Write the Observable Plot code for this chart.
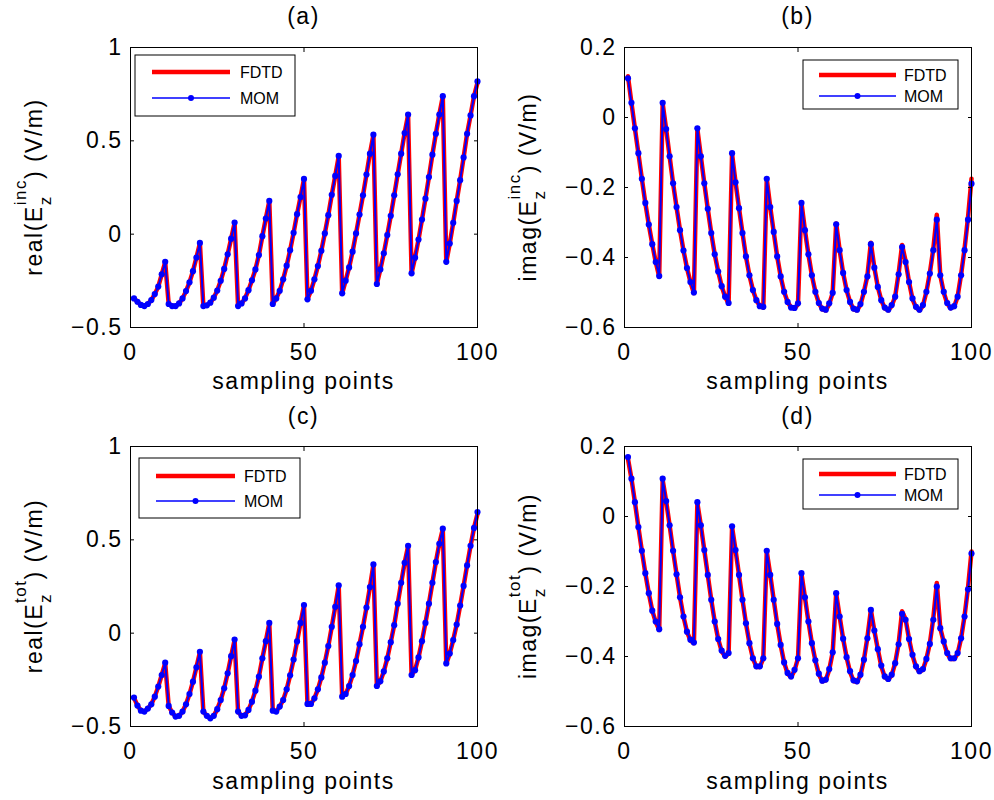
<!DOCTYPE html>
<html><head><meta charset="utf-8">
<script src="https://cdn.jsdelivr.net/npm/d3@7"></script>
<script src="https://cdn.jsdelivr.net/npm/@observablehq/plot@0.6"></script>
<style>
body{margin:0;background:#fff;}
#fig{position:relative;width:994px;height:800px;overflow:hidden;background:#fff;}
#fig svg{position:absolute;overflow:visible;background:transparent;}
#fig svg text{letter-spacing:1.5px;}
#fig svg text.leg{letter-spacing:0;}
</style></head><body><div id="fig"></div>
<script>
// sampling point indices
const samplingPoints = d3.range(1, 101);
const xTicks = [0, 50, 100];
const yTicksReal = [-0.5, 0, 0.5, 1];
const yTicksImag = [-0.6, -0.4, -0.2, 0, 0.2];
const seriesNames = ["FDTD", "MOM"];

// (a) real(Ez inc)
const realIncMOM = [
 -0.344,-0.362,-0.379,-0.385,-0.374,-0.353,-0.321,-0.281,-0.215,-0.148,
 -0.374,-0.385,-0.385,-0.371,-0.344,-0.305,-0.258,-0.198,-0.125,-0.047,
 -0.385,-0.381,-0.367,-0.340,-0.302,-0.250,-0.186,-0.108,-0.024,0.062,
 -0.385,-0.371,-0.344,-0.300,-0.247,-0.189,-0.112,-0.011,0.084,0.178,
 -0.374,-0.344,-0.303,-0.242,-0.169,-0.086,0.007,0.107,0.199,0.296,
 -0.349,-0.303,-0.242,-0.171,-0.089,0.004,0.102,0.211,0.312,0.419,
 -0.317,-0.249,-0.178,-0.094,0.004,0.105,0.208,0.319,0.431,0.533,
 -0.267,-0.189,-0.103,-0.005,0.098,0.208,0.321,0.431,0.542,0.641,
 -0.210,-0.126,-0.029,0.078,0.190,0.306,0.426,0.538,0.641,0.739,
 -0.148,-0.050,0.061,0.178,0.289,0.411,0.538,0.636,0.739,0.818];
const realIncFDTD = [
 -0.344,-0.362,-0.379,-0.385,-0.374,-0.353,-0.321,-0.281,-0.215,-0.150,
 -0.374,-0.385,-0.385,-0.371,-0.344,-0.305,-0.258,-0.198,-0.125,-0.049,
 -0.385,-0.381,-0.367,-0.340,-0.302,-0.250,-0.186,-0.108,-0.024,0.060,
 -0.385,-0.371,-0.344,-0.300,-0.247,-0.189,-0.112,-0.011,0.084,0.176,
 -0.374,-0.344,-0.303,-0.242,-0.169,-0.086,0.007,0.107,0.199,0.294,
 -0.349,-0.303,-0.242,-0.171,-0.089,0.004,0.102,0.211,0.312,0.417,
 -0.317,-0.249,-0.178,-0.094,0.004,0.105,0.208,0.319,0.431,0.531,
 -0.267,-0.189,-0.103,-0.005,0.098,0.208,0.321,0.431,0.542,0.639,
 -0.210,-0.126,-0.029,0.078,0.190,0.306,0.426,0.538,0.641,0.737,
 -0.150,-0.050,0.061,0.178,0.289,0.411,0.538,0.636,0.739,0.812];

// (b) imag(Ez inc)
const imagIncMOM = [
 0.112,0.042,-0.031,-0.102,-0.175,-0.244,-0.306,-0.362,-0.413,-0.453,
 0.042,-0.033,-0.111,-0.188,-0.256,-0.322,-0.380,-0.430,-0.470,-0.500,
 -0.031,-0.111,-0.188,-0.261,-0.330,-0.391,-0.440,-0.482,-0.512,-0.530,
 -0.102,-0.185,-0.259,-0.330,-0.397,-0.451,-0.493,-0.522,-0.539,-0.541,
 -0.175,-0.256,-0.327,-0.397,-0.454,-0.498,-0.527,-0.543,-0.544,-0.531,
 -0.244,-0.322,-0.391,-0.451,-0.498,-0.530,-0.546,-0.549,-0.531,-0.501,
 -0.305,-0.379,-0.444,-0.493,-0.527,-0.546,-0.549,-0.533,-0.498,-0.454,
 -0.362,-0.429,-0.484,-0.522,-0.543,-0.549,-0.536,-0.512,-0.448,-0.370,
 -0.413,-0.470,-0.517,-0.541,-0.549,-0.536,-0.498,-0.446,-0.379,-0.292,
 -0.451,-0.498,-0.530,-0.543,-0.539,-0.512,-0.451,-0.379,-0.292,-0.189];
const imagIncFDTD = [
 0.118,0.042,-0.031,-0.102,-0.175,-0.244,-0.306,-0.362,-0.413,-0.455,
 0.040,-0.033,-0.111,-0.188,-0.256,-0.322,-0.380,-0.430,-0.470,-0.502,
 -0.033,-0.111,-0.188,-0.261,-0.330,-0.391,-0.440,-0.482,-0.512,-0.532,
 -0.104,-0.185,-0.259,-0.330,-0.397,-0.451,-0.493,-0.522,-0.539,-0.543,
 -0.176,-0.256,-0.327,-0.397,-0.454,-0.498,-0.527,-0.543,-0.546,-0.533,
 -0.244,-0.322,-0.391,-0.451,-0.498,-0.530,-0.548,-0.551,-0.533,-0.501,
 -0.303,-0.379,-0.444,-0.493,-0.527,-0.548,-0.551,-0.535,-0.498,-0.452,
 -0.358,-0.429,-0.484,-0.522,-0.545,-0.551,-0.538,-0.512,-0.445,-0.364,
 -0.410,-0.470,-0.519,-0.543,-0.551,-0.538,-0.498,-0.444,-0.375,-0.278,
 -0.451,-0.500,-0.532,-0.545,-0.541,-0.512,-0.449,-0.375,-0.285,-0.175];

// (c) real(Ez tot)
const realTotMOM = [
 -0.345,-0.388,-0.415,-0.420,-0.404,-0.381,-0.340,-0.286,-0.224,-0.158,
 -0.390,-0.425,-0.447,-0.443,-0.420,-0.381,-0.326,-0.260,-0.183,-0.100,
 -0.420,-0.443,-0.456,-0.443,-0.407,-0.358,-0.295,-0.215,-0.123,-0.034,
 -0.420,-0.443,-0.440,-0.411,-0.367,-0.308,-0.233,-0.135,-0.043,0.055,
 -0.415,-0.420,-0.393,-0.358,-0.301,-0.226,-0.141,-0.044,0.055,0.151,
 -0.379,-0.379,-0.349,-0.301,-0.237,-0.158,-0.069,0.034,0.141,0.256,
 -0.340,-0.326,-0.283,-0.224,-0.149,-0.059,0.034,0.137,0.247,0.368,
 -0.283,-0.258,-0.205,-0.135,-0.048,0.043,0.158,0.270,0.377,0.468,
 -0.224,-0.198,-0.130,-0.043,0.055,0.158,0.270,0.381,0.479,0.560,
 -0.162,-0.109,-0.037,0.046,0.148,0.253,0.363,0.468,0.564,0.649];
const realTotFDTD = [
 -0.345,-0.388,-0.415,-0.420,-0.404,-0.381,-0.340,-0.286,-0.224,-0.160,
 -0.390,-0.425,-0.447,-0.443,-0.420,-0.381,-0.326,-0.260,-0.183,-0.102,
 -0.420,-0.443,-0.456,-0.443,-0.407,-0.358,-0.295,-0.215,-0.123,-0.036,
 -0.420,-0.443,-0.440,-0.411,-0.367,-0.308,-0.233,-0.135,-0.043,0.053,
 -0.415,-0.420,-0.393,-0.358,-0.301,-0.226,-0.141,-0.044,0.055,0.149,
 -0.379,-0.379,-0.349,-0.301,-0.237,-0.158,-0.069,0.034,0.141,0.254,
 -0.340,-0.326,-0.283,-0.224,-0.149,-0.059,0.034,0.137,0.247,0.366,
 -0.283,-0.258,-0.205,-0.135,-0.048,0.043,0.158,0.270,0.377,0.466,
 -0.224,-0.198,-0.130,-0.043,0.055,0.158,0.270,0.381,0.479,0.558,
 -0.164,-0.109,-0.037,0.046,0.148,0.253,0.363,0.468,0.564,0.640];

// (d) imag(Ez tot)
const imagTotMOM = [
 0.170,0.108,0.041,-0.030,-0.098,-0.162,-0.219,-0.269,-0.300,-0.322,
 0.108,0.044,-0.025,-0.098,-0.165,-0.231,-0.286,-0.329,-0.352,-0.360,
 0.041,-0.025,-0.096,-0.167,-0.238,-0.300,-0.350,-0.383,-0.398,-0.390,
 -0.028,-0.096,-0.167,-0.238,-0.305,-0.362,-0.405,-0.428,-0.428,-0.405,
 -0.098,-0.167,-0.238,-0.307,-0.367,-0.417,-0.447,-0.457,-0.438,-0.405,
 -0.162,-0.231,-0.300,-0.362,-0.411,-0.449,-0.469,-0.466,-0.436,-0.388,
 -0.219,-0.286,-0.349,-0.402,-0.442,-0.468,-0.471,-0.452,-0.409,-0.348,
 -0.267,-0.326,-0.379,-0.426,-0.457,-0.464,-0.452,-0.419,-0.365,-0.278,
 -0.295,-0.350,-0.395,-0.428,-0.442,-0.436,-0.407,-0.364,-0.295,-0.200,
 -0.319,-0.357,-0.390,-0.405,-0.405,-0.390,-0.348,-0.286,-0.208,-0.106];
const imagTotFDTD = [
 0.165,0.108,0.041,-0.030,-0.098,-0.162,-0.219,-0.269,-0.302,-0.324,
 0.104,0.044,-0.025,-0.098,-0.165,-0.231,-0.286,-0.329,-0.354,-0.362,
 0.038,-0.025,-0.096,-0.167,-0.238,-0.300,-0.350,-0.385,-0.400,-0.392,
 -0.030,-0.096,-0.167,-0.238,-0.305,-0.362,-0.405,-0.430,-0.430,-0.405,
 -0.100,-0.167,-0.238,-0.307,-0.367,-0.417,-0.449,-0.459,-0.440,-0.405,
 -0.164,-0.231,-0.300,-0.362,-0.411,-0.451,-0.471,-0.468,-0.438,-0.388,
 -0.220,-0.286,-0.349,-0.402,-0.444,-0.470,-0.473,-0.454,-0.409,-0.346,
 -0.267,-0.326,-0.379,-0.428,-0.459,-0.466,-0.454,-0.419,-0.363,-0.271,
 -0.293,-0.350,-0.397,-0.430,-0.444,-0.438,-0.407,-0.362,-0.290,-0.190,
 -0.319,-0.359,-0.392,-0.407,-0.407,-0.392,-0.348,-0.284,-0.203,-0.100];

const FONT = "'Liberation Sans', Arial, Helvetica, sans-serif";
const fmt = d => d < 0 ? "\u2212" + Math.abs(d) : String(d);
const blank = () => "";

const panels = [
  {title:"(a)", left:0,   top:0,   width:494, mt:47, mom:realIncMOM, fdtd:realIncFDTD, domain:[-0.5,1], yticks:yTicksReal, fn:"real", sup:"inc",
   leg:{x:135,y:55,w:160,h:61,l1:152,l2:230,tx:240,y1:72,y2:98}},
  {title:"(b)", left:494, top:0,   width:500, mt:47, mom:imagIncMOM, fdtd:imagIncFDTD, domain:[-0.6,0.2], yticks:yTicksImag, fn:"imag", sup:"inc",
   leg:{x:309,y:60,w:155,h:49,l1:325,l2:402,tx:410,y1:75,y2:96}},
  {title:"(c)", left:0,   top:400, width:494, mt:46, mom:realTotMOM, fdtd:realTotFDTD, domain:[-0.5,1], yticks:yTicksReal, fn:"real", sup:"tot",
   leg:{x:139,y:58,w:161,h:60,l1:156,l2:235,tx:244,y1:76,y2:101}},
  {title:"(d)", left:494, top:400, width:500, mt:46, mom:imagTotMOM, fdtd:imagTotFDTD, domain:[-0.6,0.2], yticks:yTicksImag, fn:"imag", sup:"tot",
   leg:{x:309,y:59,w:155,h:50,l1:325,l2:402,tx:410,y1:74,y2:95}}
];

const fig = document.getElementById("fig");
for (const p of panels) {
  const data = samplingPoints.map((x, i) => ({x, mom: p.mom[i], fdtd: p.fdtd[i]}));
  const svgNode = Plot.plot({
    width: p.width, height: 400,
    marginLeft: 130, marginRight: p.width - 477, marginTop: p.mt, marginBottom: 400 - (p.mt + 280),
    x: {domain: [0, 100]},
    y: {domain: p.domain},
    style: {fontFamily: FONT, fontSize: "23px", color: "black", background: "transparent", overflow: "visible"},
    marks: [
      Plot.line(data, {x: "x", y: "fdtd", stroke: "#ff0000", strokeWidth: 4.5}),
      Plot.line(data, {x: "x", y: "mom", stroke: "#0000ff", strokeWidth: 2}),
      Plot.dot(data, {x: "x", y: "mom", fill: "#0000ff", stroke: "none", r: 3.1}),
      Plot.frame({stroke: "black", strokeWidth: 1}),
      Plot.axisX({ticks: xTicks, anchor: "bottom", tickSize: -4, tickPadding: 20, tickFormat: fmt, label: null, fontSize: 23}),
      Plot.axisX({ticks: xTicks, anchor: "top", tickSize: -4, tickFormat: blank, label: null}),
      Plot.axisY({ticks: p.yticks, anchor: "left", tickSize: -4, tickPadding: 12, tickFormat: fmt, label: null, fontSize: 23}),
      Plot.axisY({ticks: p.yticks, anchor: "right", tickSize: -4, tickFormat: blank, label: null})
    ]
  });
  svgNode.style.left = p.left + "px";
  svgNode.style.top = p.top + "px";
  fig.appendChild(svgNode);
  const svg = d3.select(svgNode);
  const cx = 130 + (477 - 130) / 2;
  // title
  svg.append("text").attr("x", cx).attr("y", 24).attr("text-anchor", "middle")
    .attr("font-family", FONT).attr("font-size", 23).attr("fill", "black").text(p.title);
  // x label
  svg.append("text").attr("x", cx).attr("y", 389).attr("text-anchor", "middle")
    .attr("font-family", FONT).attr("font-size", 23).attr("fill", "black").text("sampling points");
  // y label with sub/superscript
  const yl = svg.append("text").attr("transform", `translate(42,${p.mt + 140}) rotate(-90)`)
    .attr("text-anchor", "middle").attr("font-family", FONT).attr("font-size", 23).attr("fill", "black");
  yl.append("tspan").text(p.fn + "(E");
  yl.append("tspan").attr("dy", 9).attr("font-size", 17).text("z");
  yl.append("tspan").attr("dx", -10).attr("dy", -25).attr("font-size", 17).text(p.sup);
  yl.append("tspan").attr("dy", 16).text(") (V/m)");
  // legend
  const L = p.leg;
  const g = svg.append("g");
  g.append("rect").attr("x", L.x).attr("y", L.y).attr("width", L.w).attr("height", L.h)
    .attr("fill", "white").attr("stroke", "black").attr("stroke-width", 1);
  g.append("line").attr("x1", L.l1).attr("x2", L.l2).attr("y1", L.y1).attr("y2", L.y1)
    .attr("stroke", "#ff0000").attr("stroke-width", 4.5);
  g.append("text").attr("class", "leg").attr("x", L.tx).attr("y", L.y1).attr("dy", "0.36em")
    .attr("text-anchor", "start")
    .attr("font-family", FONT).attr("font-size", 16).attr("fill", "black").text(seriesNames[0]);
  g.append("line").attr("x1", L.l1).attr("x2", L.l2).attr("y1", L.y2).attr("y2", L.y2)
    .attr("stroke", "#0000ff").attr("stroke-width", 1.3);
  g.append("circle").attr("cx", (L.l1 + L.l2) / 2).attr("cy", L.y2).attr("r", 3).attr("fill", "#0000ff");
  g.append("text").attr("class", "leg").attr("x", L.tx).attr("y", L.y2).attr("dy", "0.36em")
    .attr("text-anchor", "start")
    .attr("font-family", FONT).attr("font-size", 16).attr("fill", "black").text(seriesNames[1]);
}
</script>
</body></html>
